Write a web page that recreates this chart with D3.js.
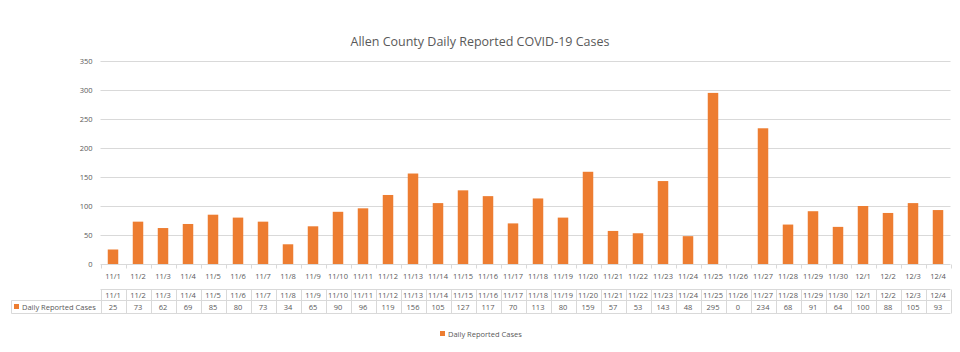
<!DOCTYPE html>
<html><head><meta charset="utf-8">
<script src="https://cdn.jsdelivr.net/npm/d3@7"></script>
<style>body{margin:0;background:#fff}svg{display:block}text{font-family:"Open Sans",sans-serif;fill:#595959}</style>
</head><body><svg id="c" width="960" height="352"></svg>
<script>
const categories=["11/1","11/2","11/3","11/4","11/5","11/6","11/7","11/8","11/9","11/10","11/11","11/12","11/13","11/14","11/15","11/16","11/17","11/18","11/19","11/20","11/21","11/22","11/23","11/24","11/25","11/26","11/27","11/28","11/29","11/30","12/1","12/2","12/3","12/4"];
const cases=[25,73,62,69,85,80,73,34,65,90,96,119,156,105,127,117,70,113,80,159,57,53,143,48,295,0,234,68,91,64,100,88,105,93];
const yTicks=[0,50,100,150,200,250,300,350];
const seriesName="Daily Reported Cases";
const chartTitle="Allen County Daily Reported COVID-19 Cases";

(function(){
const svg=d3.select("#c");
const pL=100.5,pR=950.5,pT=61,pB=264;
const x=d3.scaleBand().domain(categories).range([pL,pR]).paddingInner(0.58).paddingOuter(0.29);
const xb=d3.scaleBand().domain(categories).range([pL,pR]);
const y=d3.scaleLinear().domain([0,350]).range([pB,pT]);
const orange="#ED7D31",grid="#d9d9d9";

svg.append("text").attr("x",480).attr("y",46).attr("text-anchor","middle").style("font-size","12.5px").text(chartTitle);

svg.append("g").selectAll("line").data(yTicks.filter(d=>d>0)).join("line")
 .attr("x1",pL).attr("x2",pR).attr("y1",d=>Math.round(y(d))+0.5).attr("y2",d=>Math.round(y(d))+0.5)
 .attr("stroke",grid).attr("stroke-width",1);
const ya=svg.append("g").attr("transform",`translate(${pL-8},0)`).call(d3.axisLeft(y).tickValues(yTicks).tickSize(0).tickPadding(0));
ya.select(".domain").remove();
ya.selectAll("text").style("font-size","7.5px").style("font-family","'Open Sans',sans-serif").attr("fill","#595959");

svg.append("g").selectAll("rect").data(cases).join("rect")
 .attr("x",(d,i)=>x(categories[i])).attr("width",x.bandwidth())
 .attr("y",d=>y(d)).attr("height",d=>pB-y(d)).attr("fill",orange);

const bl=Math.round(pB)+0.5;
svg.append("line").attr("x1",pL).attr("x2",pR).attr("y1",bl).attr("y2",bl).attr("stroke",grid);
const edges=d3.range(categories.length+1);
svg.append("g").selectAll("line").data(edges).join("line")
 .attr("x1",i=>Math.round(pL+i*xb.bandwidth())+0.5).attr("x2",i=>Math.round(pL+i*xb.bandwidth())+0.5)
 .attr("y1",bl).attr("y2",bl+4).attr("stroke",grid);
svg.append("g").selectAll("text").data(categories).join("text")
 .attr("x",d=>xb(d)+xb.bandwidth()/2).attr("y",279).attr("text-anchor","middle").style("font-size","7.5px").text(d=>d);

const t1=289.5,t2=300.5,t3=313.5,legL=11.5;
const tb=svg.append("g").attr("stroke",grid).attr("fill","none");
tb.append("line").attr("x1",pL).attr("x2",pR).attr("y1",t1).attr("y2",t1);
tb.append("line").attr("x1",legL).attr("x2",pR).attr("y1",t2).attr("y2",t2);
tb.append("line").attr("x1",legL).attr("x2",pR).attr("y1",t3).attr("y2",t3);
tb.append("line").attr("x1",legL).attr("x2",legL).attr("y1",t2).attr("y2",t3);
tb.selectAll("line.v").data(edges).join("line").attr("class","v")
 .attr("x1",i=>Math.round(pL+i*xb.bandwidth())+0.5).attr("x2",i=>Math.round(pL+i*xb.bandwidth())+0.5)
 .attr("y1",t1).attr("y2",t3);
svg.append("g").selectAll("text").data(categories).join("text")
 .attr("x",d=>xb(d)+xb.bandwidth()/2).attr("y",297.5).attr("text-anchor","middle").style("font-size","7.5px").text(d=>d);
svg.append("g").selectAll("text").data(cases).join("text")
 .attr("x",(d,i)=>xb(categories[i])+xb.bandwidth()/2).attr("y",310).attr("text-anchor","middle").style("font-size","7.5px").text(d=>d);
svg.append("rect").attr("x",14).attr("y",304).attr("width",5).attr("height",5).attr("fill",orange);
svg.append("text").attr("x",22).attr("y",310).style("font-size","7.5px").text(seriesName);

svg.append("rect").attr("x",440).attr("y",331).attr("width",5).attr("height",5).attr("fill",orange);
svg.append("text").attr("x",448).attr("y",336.5).style("font-size","7.5px").text(seriesName);
})();
</script></body></html>
